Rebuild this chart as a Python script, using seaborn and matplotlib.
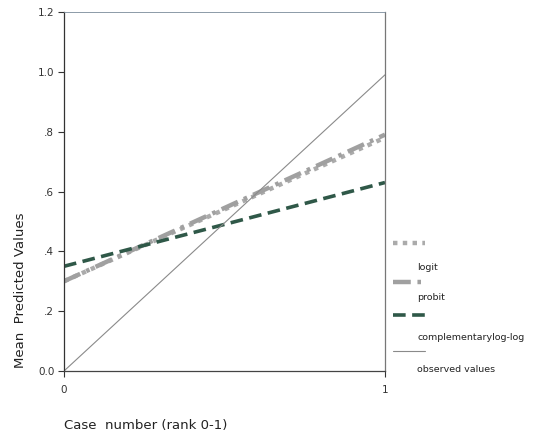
import matplotlib
matplotlib.use("Agg")
import matplotlib.pyplot as plt
from matplotlib.lines import Line2D
import seaborn as sns
import pandas as pd

sns.set_style("white")
plt.rcParams['font.family'] = ['DejaVu Sans']

x_rank = [0, 1]
logit = [0.30, 0.78]
probit = [0.30, 0.79]
cloglog = [0.35, 0.63]
observed = [0.0, 0.99]
series_names = ["logit", "probit", "complementarylog-log", "observed values"]
yticks = [0.0, 0.2, 0.4, 0.6, 0.8, 1.0, 1.2]
ytick_labels = ["0.0", ".2", ".4", ".6", ".8", "1.0", "1.2"]
xticks = [0, 1]
xtick_labels = ["0", "1"]

styles = {
    "logit": dict(color="#ababab", lw=3.2, ls=(0, (1, 1.2))),
    "probit": dict(color="#a0a0a0", lw=3.2, ls=(0, (4, 1.5, 0.8, 1.5))),
    "complementarylog-log": dict(color="#2f5848", lw=2.6, ls=(0, (3.5, 1.8))),
    "observed values": dict(color="#8a8a8a", lw=0.8, ls="-"),
}

W, H = 533, 438
fig = plt.figure(figsize=(W / 100, H / 100), dpi=100)
ax = fig.add_axes([64 / W, 1 - 371 / H, (385 - 64) / W, (371 - 12) / H])

data = {"logit": logit, "probit": probit, "complementarylog-log": cloglog,
        "observed values": observed}
for name in series_names:
    df = pd.DataFrame({"x": x_rank, "y": data[name]})
    st = styles[name]
    sns.lineplot(data=df, x="x", y="y", ax=ax, color=st["color"],
                 linewidth=st["lw"], linestyle=st["ls"], legend=False)

ax.set_xlim(0, 1)
ax.set_ylim(0, 1.2)
ax.set_yticks(yticks)
ax.set_yticklabels(ytick_labels)
ax.set_xticks(xticks)
ax.set_xticklabels(xtick_labels)
ax.tick_params(axis="both", direction="out", length=4, width=0.8,
               labelsize=7.5, colors="#333333", pad=3, left=True, bottom=True)
ax.tick_params(axis="x", pad=6)
for side, sp in ax.spines.items():
    sp.set_visible(True)
    sp.set_linewidth(0.9)
ax.spines["left"].set_color("#333333")
ax.spines["bottom"].set_color("#444444")
ax.spines["top"].set_color("#7a8a9a")
ax.spines["top"].set_linewidth(0.6)
ax.spines["right"].set_color("#777777")
ax.set_xlabel("")
ax.set_ylabel("")

fig.text(20 / W, 1 - 290 / H, "Mean  Predicted Values", rotation=90,
         ha="center", va="center", fontsize=9.5, color="#222222")
fig.text(64 / W, 1 - 425 / H, "Case  number (rank 0-1)", ha="left",
         va="center", fontsize=9.5, color="#222222")

# legend: handle above label
handle_y = [243, 282, 315, 351]
label_y = [267, 297, 337, 370]
for name, hy, ly in zip(series_names, handle_y, label_y):
    st = styles[name]
    fig.add_artist(Line2D([393 / W, 425 / W], [1 - hy / H, 1 - hy / H],
                          transform=fig.transFigure, color=st["color"],
                          linewidth=st["lw"], linestyle=st["ls"]))
    fig.text(417 / W, 1 - ly / H, name, ha="left", va="center",
             fontsize=6.8, color="#222222")

fig.savefig("out.png", dpi=100)
